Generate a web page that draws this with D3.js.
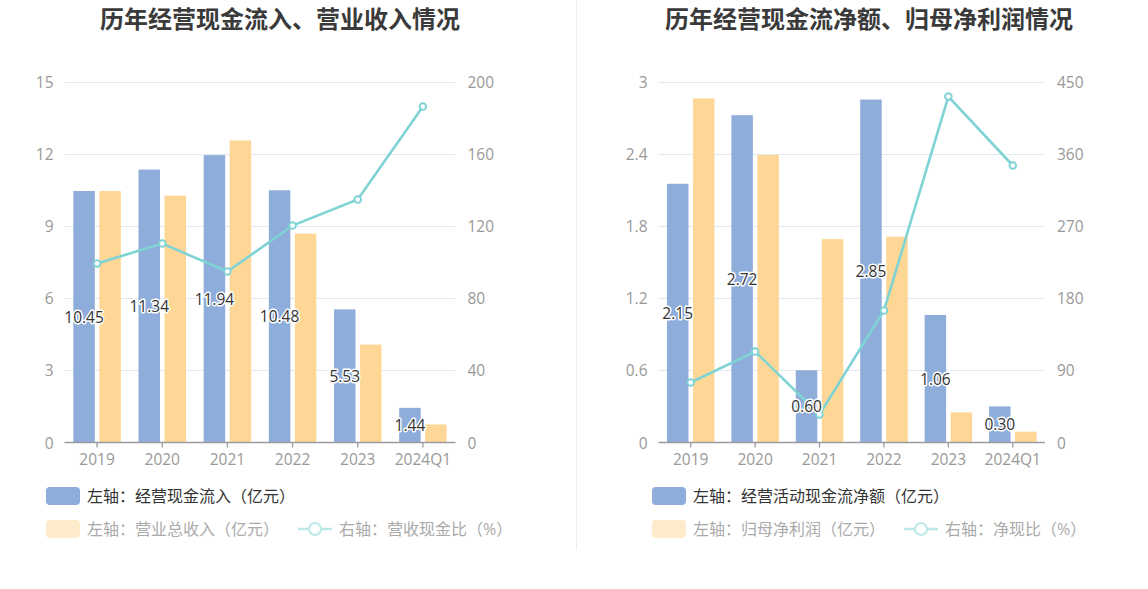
<!DOCTYPE html>
<html>
<head>
<meta charset="utf-8">
<script src="https://cdn.jsdelivr.net/npm/d3@7"></script>
<style>
  body { margin: 0; background: #fff; }
  text { font-family: "Open Sans", "Noto Sans CJK SC", sans-serif; }
</style>
</head>
<body>
<script>
// categories shared by both charts
var years = ["2019", "2020", "2021", "2022", "2023", "2024Q1"];

// left chart
var cashIn = [10.45, 11.34, 11.94, 10.48, 5.53, 1.44];      // 经营现金流入（亿元）
var revenue = [10.45, 10.26, 12.55, 8.68, 4.07, 0.75];      // 营业总收入（亿元）
var cashRatio = [99.2, 110.2, 94.7, 120.2, 134.6, 186.1];   // 营收现金比（%）
var leftTicksA = [0, 3, 6, 9, 12, 15];
var rightTicksA = [0, 40, 80, 120, 160, 200];

// right chart
var netCash = [2.15, 2.72, 0.60, 2.85, 1.06, 0.30];         // 经营活动现金流净额（亿元）
var netProfit = [2.86, 2.39, 1.69, 1.71, 0.25, 0.09];       // 归母净利润（亿元）
var netRatio = [74.8, 113.4, 34.9, 164.5, 431.3, 345.3];    // 净现比（%）
var leftTicksB = [0, 0.6, 1.2, 1.8, 2.4, 3];
var rightTicksB = [0, 90, 180, 270, 360, 450];

var BLUE = "#8eaddb", YELLOW = "#fed796", TEAL = "#7fd3d5";

var svg = d3.select("body").append("svg")
    .attr("width", 1148)
    .attr("height", 589);

// divider between the two panels
svg.append("line")
    .attr("x1", 576.5).attr("x2", 576.5)
    .attr("y1", 0).attr("y2", 550)
    .attr("stroke", "#eeeeee");

function drawChart(o) {
    var top = 81.5, bottom = 442.5;
    var g = svg.append("g");

    var x = d3.scaleBand().domain(years).range([o.x0, o.x1]);
    var yL = d3.scaleLinear().domain(d3.extent(o.leftTicks)).range([bottom, top]);
    var yR = d3.scaleLinear().domain(d3.extent(o.rightTicks)).range([bottom, top]);

    g.append("text")
        .attr("x", o.titleX).attr("y", 18)
        .attr("text-anchor", "middle")
        .attr("dominant-baseline", "central")
        .attr("font-size", 24).attr("font-weight", "bold")
        .attr("fill", "#3a3a3a")
        .text(o.title);

    // grid lines
    g.selectAll(".grid").data(o.leftTicks.slice(1)).enter().append("line")
        .attr("x1", o.x0).attr("x2", o.x1)
        .attr("y1", function (d) { return Math.round(yL(d)) + 0.5; })
        .attr("y2", function (d) { return Math.round(yL(d)) + 0.5; })
        .attr("stroke", "#e3e7f1");

    // left axis labels
    g.selectAll(".yl").data(o.leftTicks).enter().append("text")
        .attr("x", o.x0 - 11).attr("y", yL)
        .attr("text-anchor", "end").attr("dominant-baseline", "central")
        .attr("font-size", 15.5).attr("fill", "#999")
        .text(function (d) { return d; });

    // right axis labels
    g.selectAll(".yr").data(o.rightTicks).enter().append("text")
        .attr("x", o.x1 + 12).attr("y", yR)
        .attr("dominant-baseline", "central")
        .attr("font-size", 15.5).attr("fill", "#999")
        .text(function (d) { return d; });

    var bw = 21.5, gap = 4.5;

    g.selectAll(".barA").data(o.barA).enter().append("rect")
        .attr("x", function (d, i) { return x(years[i]) + x.bandwidth() / 2 - gap / 2 - bw; })
        .attr("y", function (d) { return yL(d); })
        .attr("width", bw)
        .attr("height", function (d) { return bottom - yL(d); })
        .attr("fill", BLUE);

    g.selectAll(".barB").data(o.barB).enter().append("rect")
        .attr("x", function (d, i) { return x(years[i]) + x.bandwidth() / 2 + gap / 2; })
        .attr("y", function (d) { return yL(d); })
        .attr("width", bw)
        .attr("height", function (d) { return bottom - yL(d); })
        .attr("fill", YELLOW);

    // x axis
    g.append("line")
        .attr("x1", o.x0).attr("x2", o.x1)
        .attr("y1", bottom).attr("y2", bottom)
        .attr("stroke", "#9a9a9f").attr("stroke-width", 1.3);

    g.selectAll(".xt").data(years).enter().append("line")
        .attr("x1", function (d) { return x(d) + x.bandwidth() / 2; })
        .attr("x2", function (d) { return x(d) + x.bandwidth() / 2; })
        .attr("y1", bottom).attr("y2", bottom + 5)
        .attr("stroke", "#9a9a9f").attr("stroke-width", 1.3);

    g.selectAll(".xl").data(years).enter().append("text")
        .attr("x", function (d) { return x(d) + x.bandwidth() / 2; })
        .attr("y", 459)
        .attr("text-anchor", "middle").attr("dominant-baseline", "central")
        .attr("font-size", 15.5).attr("fill", "#999")
        .text(function (d) { return d; });

    // ratio line on right axis
    var line = d3.line()
        .x(function (d, i) { return x(years[i]) + x.bandwidth() / 2; })
        .y(function (d) { return yR(d); });

    g.append("path")
        .datum(o.line)
        .attr("d", line)
        .attr("fill", "none")
        .attr("stroke", TEAL).attr("stroke-width", 2.6);

    g.selectAll(".pt").data(o.line).enter().append("circle")
        .attr("cx", function (d, i) { return x(years[i]) + x.bandwidth() / 2; })
        .attr("cy", yR)
        .attr("r", 3.3)
        .attr("fill", "#fff")
        .attr("stroke", TEAL).attr("stroke-width", 1.9);

    // value labels in the middle of the blue bars
    g.selectAll(".lab").data(o.barA).enter().append("text")
        .attr("x", function (d, i) { return x(years[i]) + x.bandwidth() / 2 - gap / 2 - bw / 2; })
        .attr("y", function (d) { return (yL(d) + bottom) / 2; })
        .attr("text-anchor", "middle").attr("dominant-baseline", "central")
        .attr("font-size", 15.5).attr("fill", "#333")
        .attr("stroke", "#fff").attr("stroke-width", 3)
        .attr("paint-order", "stroke").attr("stroke-linejoin", "round")
        .text(function (d) { return d.toFixed(2); });

    // legend
    var lx = o.legendX;
    g.append("rect")
        .attr("x", lx).attr("y", 487).attr("width", 34).attr("height", 18)
        .attr("rx", 4).attr("fill", BLUE);
    g.append("text")
        .attr("x", lx + 41).attr("y", 496)
        .attr("dominant-baseline", "central")
        .attr("font-size", 16).attr("fill", "#333")
        .text(o.legend[0]);

    g.append("rect")
        .attr("x", lx).attr("y", 520).attr("width", 34).attr("height", 18)
        .attr("rx", 4).attr("fill", "#feebcc");
    var t2 = g.append("text")
        .attr("x", lx + 41).attr("y", 529)
        .attr("dominant-baseline", "central")
        .attr("font-size", 16).attr("fill", "#aaa")
        .text(o.legend[1]);

    var ix = lx + 41 + t2.node().getComputedTextLength() + 19;
    g.append("line")
        .attr("x1", ix).attr("x2", ix + 34)
        .attr("y1", 529).attr("y2", 529)
        .attr("stroke", "#bde8e9").attr("stroke-width", 2.5);
    g.append("circle")
        .attr("cx", ix + 17).attr("cy", 529).attr("r", 6)
        .attr("fill", "#fff").attr("stroke", "#bde8e9").attr("stroke-width", 2);
    g.append("text")
        .attr("x", ix + 41).attr("y", 529)
        .attr("dominant-baseline", "central")
        .attr("font-size", 16).attr("fill", "#aaa")
        .text(o.legend[2]);
}

drawChart({
    x0: 64.5, x1: 455.5, titleX: 280, legendX: 46,
    title: "历年经营现金流入、营业收入情况",
    barA: cashIn, barB: revenue, line: cashRatio,
    leftTicks: leftTicksA, rightTicks: rightTicksA,
    legend: ["左轴：经营现金流入（亿元）", "左轴：营业总收入（亿元）", "右轴：营收现金比（%）"]
});

drawChart({
    x0: 658.5, x1: 1045, titleX: 869, legendX: 652,
    title: "历年经营现金流净额、归母净利润情况",
    barA: netCash, barB: netProfit, line: netRatio,
    leftTicks: leftTicksB, rightTicks: rightTicksB,
    legend: ["左轴：经营活动现金流净额（亿元）", "左轴：归母净利润（亿元）", "右轴：净现比（%）"]
});
</script>
</body>
</html>
